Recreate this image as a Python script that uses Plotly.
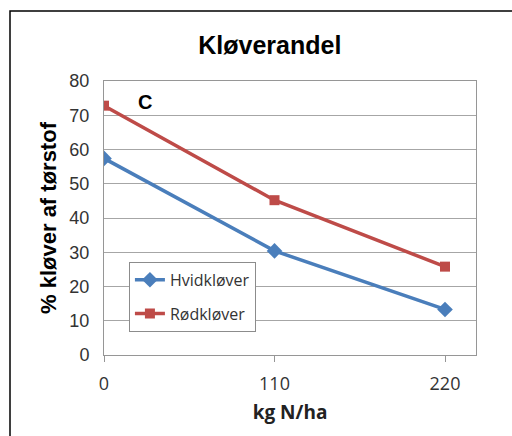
import plotly.graph_objects as go

x_vals = [0, 110, 220]
hvid = [57.4, 30.4, 13.3]
roed = [72.8, 45.2, 25.8]
x_ticks = [0, 110, 220]
y_ticks = [0, 10, 20, 30, 40, 50, 60, 70, 80]

fig = go.Figure()
fig.add_trace(go.Scatter(x=x_vals, y=hvid, name="Hvidkløver", mode="lines+markers",
                         legendgroup="a",
                         line=dict(color="#4A7EBB", width=3.5),
                         marker=dict(symbol="diamond", size=12, color="#4A7EBB")))
fig.add_trace(go.Scatter(x=x_vals, y=roed, name="Rødkløver", mode="lines+markers",
                         legendgroup="b",
                         line=dict(color="#BE4B48", width=3.5),
                         marker=dict(symbol="square", size=10, color="#BE4B48")))

fig.update_layout(
    width=512, height=436,
    margin=dict(l=104, r=36, t=81, b=81),
    paper_bgcolor="white", plot_bgcolor="white",
    title=dict(text="<b>Kløverandel</b>", x=0.527, xanchor="center", y=0.897, yanchor="middle",
               font=dict(family="Liberation Sans, Arial", size=25, color="black")),
    xaxis=dict(range=[0, 240], tickvals=x_ticks, showgrid=False, zeroline=False,
               showline=True, linecolor="#969696", linewidth=1, mirror=True,
               ticks="outside", ticklen=6, tickcolor="#969696", ticklabelstandoff=6,
               tickfont=dict(family="Open Sans, DejaVu Sans", size=18, color="#333"),
               title=dict(text="<b>kg N/ha</b>", standoff=12,
                          font=dict(family="Open Sans, DejaVu Sans", size=19, color="#222"))),
    yaxis=dict(range=[0, 80], tickvals=y_ticks, showgrid=True, gridcolor="#a6a6a6", gridwidth=1,
               zeroline=False, showline=True, linecolor="#969696", linewidth=1, mirror=True,
               ticklabelstandoff=10,
               tickfont=dict(family="Liberation Sans, Arial", size=18, color="#333"),
               title=dict(text="<b>% kløver af tørstof</b>", standoff=6,
                          font=dict(family="Liberation Sans, Arial", size=22, color="black"))),
    legend=dict(x=0.067, y=0.34, xanchor="left", yanchor="top", bgcolor="white",
                bordercolor="#8c8c8c", borderwidth=1,
                font=dict(family="Open Sans, DejaVu Sans", size=16, color="#333"),
                itemwidth=30, tracegroupgap=10),
    showlegend=True,
)

fig.add_annotation(x=26.5, y=74, xref="x", yref="y", text="<b>C</b>", showarrow=False,
                   font=dict(family="Liberation Sans, Arial", size=20, color="black"))

fig.add_shape(type="rect", xref="paper", yref="paper",
              x0=(10 - 104) / 372, x1=(520 - 104) / 372,
              y0=(355 - 445) / 274, y1=(355 - 11) / 274,
              line=dict(color="black", width=1.5), fillcolor="rgba(0,0,0,0)", layer="below")

fig.write_html("out.html")
